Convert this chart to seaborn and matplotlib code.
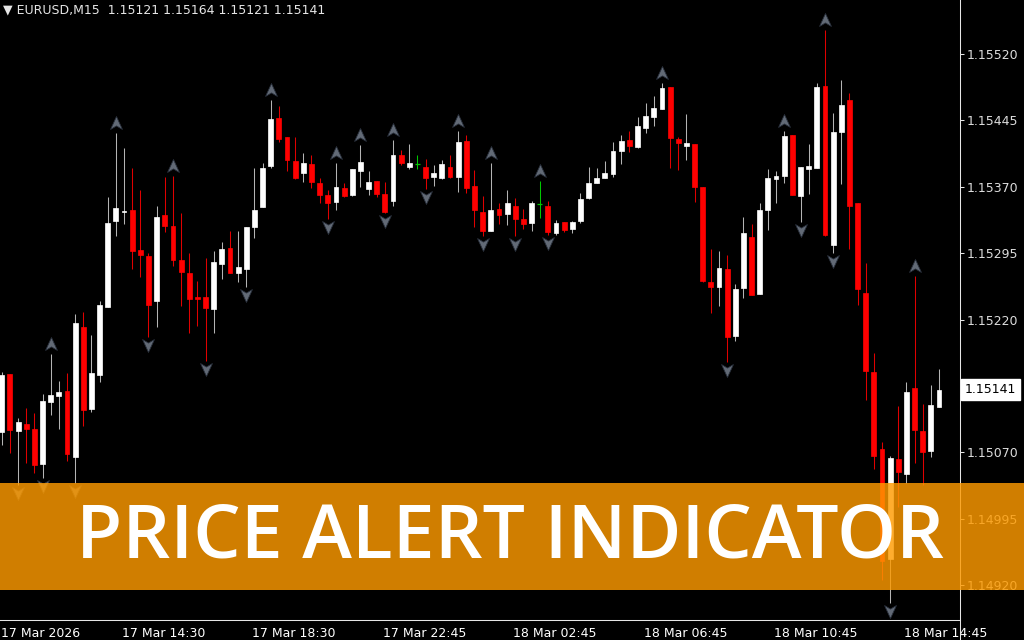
import numpy as np
import seaborn as sns
import matplotlib
matplotlib.use("Agg")
import matplotlib.pyplot as plt
from matplotlib.path import Path
from matplotlib.patches import Rectangle
from matplotlib.lines import Line2D
import matplotlib.transforms as mtransforms

# EURUSD M15 bars (bar 0 = 17 Mar 10:45)
opens = [
    1.15093, 1.15159, 1.15094, 1.15102, 1.15096, 1.15057, 1.15127, 1.15134, 1.15139, 1.15065,
    1.15212, 1.15119, 1.15157, 1.15234, 1.15331, 1.15341, 1.15344, 1.15299, 1.15292, 1.15241,
    1.15338, 1.15326, 1.15287, 1.15273, 1.15246, 1.15246, 1.15232, 1.15283, 1.15301, 1.15273,
    1.15277, 1.15325, 1.15347, 1.15393, 1.15448, 1.15426, 1.15399, 1.15386, 1.15396, 1.15374,
    1.15361, 1.15353, 1.15369, 1.15361, 1.15388, 1.15368, 1.15377, 1.15362, 1.15354, 1.15406,
    1.15392, 1.15396, 1.15392, 1.15381, 1.15380, 1.15392, 1.15381, 1.15422, 1.15371, 1.15342,
    1.15320, 1.15345, 1.15339, 1.15348, 1.15334, 1.15329, 1.15351, 1.15348, 1.15318, 1.15330,
    1.15322, 1.15331, 1.15357, 1.15374, 1.15380, 1.15385, 1.15410, 1.15423, 1.15415, 1.15436,
    1.15449, 1.15458, 1.15483, 1.15424, 1.15416, 1.15418, 1.15370, 1.15263, 1.15257, 1.15277,
    1.15201, 1.15256, 1.15313, 1.15249, 1.15344, 1.15379, 1.15382, 1.15428, 1.15360, 1.15390,
    1.15391, 1.15484, 1.15304, 1.15432, 1.15468, 1.15352, 1.15250, 1.15161, 1.15074, 1.14950,
    1.15063, 1.15046, 1.15143, 1.15094, 1.15072, 1.15121,
]
highs = [
    1.15161, 1.15159, 1.15109, 1.15120, 1.15114, 1.15136, 1.15181, 1.15151, 1.15160, 1.15226,
    1.15229, 1.15203, 1.15241, 1.15358, 1.15431, 1.15414, 1.15391, 1.15366, 1.15295, 1.15348,
    1.15381, 1.15382, 1.15340, 1.15295, 1.15264, 1.15290, 1.15298, 1.15308, 1.15320, 1.15320,
    1.15325, 1.15391, 1.15397, 1.15468, 1.15461, 1.15426, 1.15426, 1.15408, 1.15406, 1.15380,
    1.15366, 1.15397, 1.15374, 1.15390, 1.15417, 1.15388, 1.15377, 1.15375, 1.15423, 1.15412,
    1.15418, 1.15406, 1.15401, 1.15395, 1.15400, 1.15406, 1.15433, 1.15428, 1.15389, 1.15360,
    1.15397, 1.15352, 1.15366, 1.15357, 1.15345, 1.15354, 1.15377, 1.15354, 1.15333, 1.15330,
    1.15331, 1.15363, 1.15392, 1.15391, 1.15399, 1.15421, 1.15428, 1.15433, 1.15449, 1.15465,
    1.15473, 1.15487, 1.15483, 1.15426, 1.15452, 1.15418, 1.15370, 1.15300, 1.15298, 1.15293,
    1.15260, 1.15336, 1.15328, 1.15352, 1.15390, 1.15388, 1.15433, 1.15428, 1.15392, 1.15418,
    1.15487, 1.15547, 1.15453, 1.15491, 1.15476, 1.15352, 1.15284, 1.15182, 1.15082, 1.15066,
    1.15122, 1.15150, 1.15269, 1.15125, 1.15146, 1.15164,
]
lows = [
    1.15078, 1.15069, 1.15033, 1.15058, 1.15047, 1.15041, 1.15112, 1.15096, 1.15060, 1.15035,
    1.15100, 1.15116, 1.15150, 1.15234, 1.15314, 1.15328, 1.15277, 1.15268, 1.15200, 1.15212,
    1.15319, 1.15281, 1.15235, 1.15205, 1.15213, 1.15173, 1.15205, 1.15266, 1.15273, 1.15263,
    1.15257, 1.15312, 1.15347, 1.15391, 1.15421, 1.15388, 1.15379, 1.15375, 1.15369, 1.15352,
    1.15334, 1.15344, 1.15358, 1.15360, 1.15370, 1.15361, 1.15358, 1.15340, 1.15348, 1.15395,
    1.15390, 1.15390, 1.15368, 1.15371, 1.15379, 1.15380, 1.15364, 1.15363, 1.15325, 1.15314,
    1.15320, 1.15328, 1.15327, 1.15314, 1.15322, 1.15320, 1.15335, 1.15316, 1.15316, 1.15319,
    1.15318, 1.15329, 1.15356, 1.15374, 1.15380, 1.15381, 1.15396, 1.15409, 1.15414, 1.15431,
    1.15439, 1.15458, 1.15391, 1.15389, 1.15400, 1.15353, 1.15262, 1.15227, 1.15235, 1.15172,
    1.15196, 1.15244, 1.15248, 1.15249, 1.15321, 1.15352, 1.15374, 1.15361, 1.15330, 1.15362,
    1.15391, 1.15314, 1.15295, 1.15373, 1.15300, 1.15236, 1.15129, 1.15051, 1.14926, 1.14900,
    1.15008, 1.15035, 1.15058, 1.15033, 1.15065, 1.15121,
]
closes = [
    1.15157, 1.15095, 1.15104, 1.15096, 1.15056, 1.15128, 1.15135, 1.15138, 1.15068, 1.15216,
    1.15118, 1.15160, 1.15236, 1.15329, 1.15346, 1.15343, 1.15297, 1.15293, 1.15236, 1.15336,
    1.15326, 1.15287, 1.15274, 1.15243, 1.15243, 1.15233, 1.15285, 1.15300, 1.15273, 1.15279,
    1.15325, 1.15344, 1.15391, 1.15447, 1.15424, 1.15400, 1.15380, 1.15397, 1.15375, 1.15361,
    1.15352, 1.15370, 1.15360, 1.15390, 1.15398, 1.15375, 1.15362, 1.15342, 1.15406, 1.15397,
    1.15397, 1.15396, 1.15380, 1.15386, 1.15396, 1.15381, 1.15421, 1.15369, 1.15344, 1.15320,
    1.15344, 1.15338, 1.15352, 1.15334, 1.15328, 1.15352, 1.15351, 1.15319, 1.15329, 1.15321,
    1.15330, 1.15356, 1.15374, 1.15380, 1.15386, 1.15410, 1.15422, 1.15416, 1.15439, 1.15450,
    1.15459, 1.15482, 1.15425, 1.15419, 1.15420, 1.15370, 1.15264, 1.15257, 1.15278, 1.15200,
    1.15255, 1.15318, 1.15248, 1.15344, 1.15380, 1.15382, 1.15427, 1.15361, 1.15392, 1.15393,
    1.15483, 1.15316, 1.15432, 1.15462, 1.15348, 1.15255, 1.15162, 1.15066, 1.14947, 1.15064,
    1.15048, 1.15138, 1.15095, 1.15070, 1.15124, 1.15141,
]

# bars where the indicator fired an alert
up_alerts = [6, 14, 21, 33, 41, 44, 48, 56, 60, 66, 81, 96, 101, 112]
down_alerts = [2, 5, 9, 18, 25, 30, 40, 47, 52, 59, 63, 67, 89, 98, 102, 109]

price_ticks = [1.14920, 1.14995, 1.15070, 1.15220, 1.15295, 1.15370, 1.15445, 1.15520]
time_tick_bars = [15, 31, 47, 63, 79, 95, 111]
time_tick_labels = ["17 Mar 14:30", "17 Mar 18:30", "17 Mar 22:45", "18 Mar 02:45",
                    "18 Mar 06:45", "18 Mar 10:45", "18 Mar 14:45"]
first_label = "17 Mar 2026"
header = "EURUSD,M15  1.15121 1.15164 1.15121 1.15141"
last_price = 1.15141
banner = "PRICE ALERT INDICATOR"

sns.set_theme(style="dark", rc={
    "figure.facecolor": "black",
    "axes.facecolor": "black",
    "axes.edgecolor": "#e6e6e6",
    "text.color": "white",
})
plt.rcParams["font.family"] = ["DejaVu Sans"]

o = np.array(opens)
h = np.array(highs)
l = np.array(lows)
c = np.array(closes)
x = np.arange(len(o))

fig = plt.figure(figsize=(10.24, 6.4), dpi=100)
ax = fig.add_axes([0, 20 / 640, 960 / 1024, 620 / 640])
ax.set_xlim(-0.22, 117.57)
ax.set_ylim(1.148807, 1.155810)

bull = c > o + 1e-9
bear = c < o - 1e-9
doji = ~(bull | bear)

# wicks
ax.vlines(x[bull], l[bull], h[bull], color="#b4b4b4", lw=0.75, zorder=2)
ax.vlines(x[bear], l[bear], h[bear], color="#e00000", lw=0.75, zorder=2)
ax.vlines(x[doji], l[doji], h[doji], color="#00c800", lw=0.75, zorder=2)

# bodies
w = 0.6
ax.bar(x[bull], c[bull] - o[bull], bottom=o[bull], width=w, color="white",
       edgecolor="white", lw=0.5, zorder=3)
ax.bar(x[bear], c[bear] - o[bear], bottom=o[bear], width=w, color="#ff0000",
       edgecolor="#ff0000", lw=0.5, zorder=3)
ax.hlines(o[doji], x[doji] - w / 2, x[doji] + w / 2, color="#00c800", lw=0.9, zorder=3)

# alert arrows
up_path = Path([(0, 1), (0.85, -0.85), (0, -0.35), (-0.85, -0.85), (0, 1)],
               [Path.MOVETO, Path.LINETO, Path.LINETO, Path.LINETO, Path.CLOSEPOLY])
down_path = Path([(0, -1), (0.85, 0.85), (0, 0.35), (-0.85, 0.85), (0, -1)],
                 [Path.MOVETO, Path.LINETO, Path.LINETO, Path.LINETO, Path.CLOSEPOLY])
px_per_price = 620 / (1.155810 - 1.148807)
ua = np.array(up_alerts)
da = np.array(down_alerts)
sns.scatterplot(x=ua, y=h[ua] + 10 / px_per_price, marker=up_path, s=100,
                color="#626a76", edgecolor="#2a313d", linewidth=0.6, ax=ax, zorder=4)
sns.scatterplot(x=da, y=l[da] - 8 / px_per_price, marker=down_path, s=100,
                color="#626a76", edgecolor="#2a313d", linewidth=0.6, ax=ax, zorder=4)

# axes styling, MT4 look
for side in ["top", "left"]:
    ax.spines[side].set_visible(False)
for side in ["right", "bottom"]:
    ax.spines[side].set_visible(True)
    ax.spines[side].set_color("#e6e6e6")
    ax.spines[side].set_linewidth(0.75)
ax.grid(False)

ax.yaxis.tick_right()
ax.set_yticks(price_ticks)
ax.set_yticklabels([f"{p:.5f}" for p in price_ticks])
ax.tick_params(axis="y", colors="#e6e6e6", direction="out", length=3, width=0.75,
               pad=2, labelsize=9, labelcolor="#dcdcdc")

ax.set_xticks(time_tick_bars)
ax.set_xticklabels(time_tick_labels, ha="left")
ax.tick_params(axis="x", colors="#e6e6e6", direction="out", length=3, width=0.75,
               pad=2, labelsize=9, labelcolor="white")
shift = mtransforms.ScaledTranslation(-2 / 100, 0, fig.dpi_scale_trans)
for lab in ax.get_xticklabels():
    lab.set_transform(lab.get_transform() + shift)

first_x = (1 - 1.8) / 8.15
ax.text(first_x, -7 / 620, first_label,
        transform=mtransforms.blended_transform_factory(ax.transData, ax.transAxes),
        ha="left", va="top", fontsize=9, color="white", clip_on=False)

# current price tag
ax.text(1.0 + 5 / 960, last_price, f"{last_price:.5f}",
        transform=mtransforms.blended_transform_factory(ax.transAxes, ax.transData),
        ha="left", va="center", fontsize=9, color="black", clip_on=False,
        bbox=dict(facecolor="white", edgecolor="white", boxstyle="square,pad=0.3"))

# line continues below the chart at the price scale
fig.add_artist(Line2D([960 / 1024, 960 / 1024], [0, 20 / 640], transform=fig.transFigure,
                      color="#e6e6e6", lw=0.75))

fig.text(3 / 1024, 1 - 3 / 640, "\u25bc " + header, ha="left", va="top", fontsize=9,
         color="#e6e6e6")

# banner
fig.add_artist(Rectangle((0, 50 / 640), 1, 107 / 640, transform=fig.transFigure,
                         facecolor="#ff9b00", edgecolor="none", alpha=0.82, zorder=10))
fig.text(510 / 1024, (640 - 558) / 640, banner, ha="center", va="baseline",
         fontsize=54, color="white", family=["Open Sans", "DejaVu Sans"],
         fontweight="semibold", zorder=11)

fig.savefig("out.png", dpi=100, facecolor="black")
